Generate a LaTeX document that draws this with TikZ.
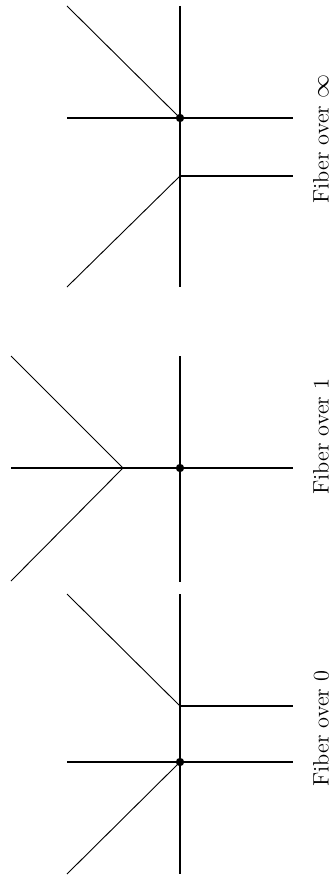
\documentclass[tikz,border=0pt]{standalone}
\usepackage{tikz}
\usetikzlibrary{positioning}

\begin{document}
\begin{tikzpicture}[
  x=0.6pt, y=-0.6pt,
  axis/.style={line width=0.62pt},
  ray/.style={line width=0.55pt},
  pt/.style={circle, fill=black, inner sep=0pt, minimum size=5pt},
  fiber/.style={rotate=90, anchor=base west, inner sep=0pt,
                font=\fontsize{13.4}{16}\selectfont}
]
\useasboundingbox (0,0) rectangle (332,876);

%% Fiber over infinity
\coordinate (iT)  at (180,6);
\coordinate (iB)  at (180,287);
\coordinate (iL)  at (67,118);
\coordinate (iR)  at (293,118);
\coordinate (iD)  at (67,6);
\coordinate (iK)  at (180,176);
\coordinate (iKR) at (293,176);
\coordinate (iU)  at (67,287);
\node[pt] (idot) at (180,118) {};
\draw[axis] (iT) -- (iB);
\draw[axis] (iL) -- (iR);
\draw[axis] (iK) -- (iKR);
\draw[ray] (iD) -- (idot.center);
\draw[ray] (iK) -- (iU);
\node[fiber] (lInf) at (328.5,204) {Fiber over $\infty$};

%% Fiber over 1
\coordinate (oT) at (180,356);
\coordinate (oB) at (180,582);
\coordinate (oL) at (11,468);
\coordinate (oR) at (293,468);
\coordinate (oV) at (123,468);
\coordinate (oD) at (11,356);
\coordinate (oU) at (11,581);
\node[pt] (odot) at (180,468) {};
\draw[axis] (oT) -- (oB);
\draw[axis] (oL) -- (oR);
\draw[ray] (oD) -- (oV) -- (oU);
\node[fiber] (lOne) at (328.5,495) {Fiber over 1};

%% Fiber over 0
\coordinate (zT)  at (180,594);
\coordinate (zB)  at (180,874);
\coordinate (zK)  at (180,706);
\coordinate (zKR) at (293,706);
\coordinate (zD)  at (67,594);
\coordinate (zL)  at (67,762);
\coordinate (zR)  at (293,762);
\coordinate (zU)  at (67,874);
\node[pt] (zdot) at (180,762) {};
\draw[axis] (zT) -- (zB);
\draw[axis] (zK) -- (zKR);
\draw[axis] (zL) -- (zR);
\draw[ray] (zD) -- (zK);
\draw[ray] (zdot.center) -- (zU);
\node[fiber] (lZero) at (328.5,787) {Fiber over 0};

\end{tikzpicture}
\end{document}
